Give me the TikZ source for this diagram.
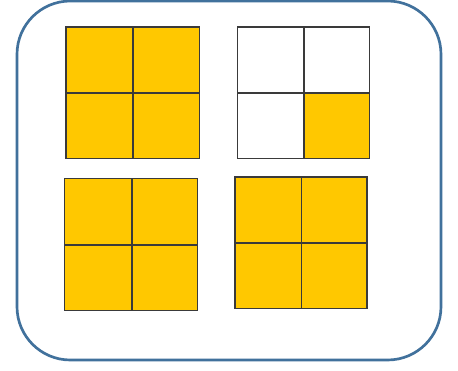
\documentclass[tikz,border=0pt]{standalone}
\usetikzlibrary{calc}
\definecolor{frameblue}{HTML}{41719C}
\definecolor{gold}{HTML}{FFC800}
\definecolor{gridline}{HTML}{3A3A3A}
\tikzset{
  frame/.style={draw=frameblue, line width=2pt, rounded corners=40pt},
  cellfull/.style={fill=gold, inner sep=0pt, anchor=north west},
  cellempty/.style={fill=white, inner sep=0pt, anchor=north west},
  gridpen/.style={draw=gridline, line width=1.3pt},
}
\begin{document}
\begin{tikzpicture}[x=0.75pt,y=-0.75pt]
\useasboundingbox (0,0) rectangle (458,371);
\fill[white] (0,0) rectangle (458,371);
\node[frame, minimum width=424*0.75pt, minimum height=359*0.75pt, inner sep=0pt] (box) at (229,180.5) {};
% grid 1 (top-left)
\node[cellfull, minimum width=66.5*0.75pt, minimum height=65.5*0.75pt] (a1) at (66,27) {};
\node[cellfull, minimum width=66.5*0.75pt, minimum height=65.5*0.75pt] (a2) at (132.5,27) {};
\node[cellfull, minimum width=66.5*0.75pt, minimum height=65.5*0.75pt] (a3) at (66,92.5) {};
\node[cellfull, minimum width=66.5*0.75pt, minimum height=65.5*0.75pt] (a4) at (132.5,92.5) {};
\draw[gridpen] (a1.north west) rectangle (a4.south east);
\draw[gridpen] (a1.north east) -- (a3.south east);
\draw[gridpen] (a1.south west) -- (a2.south east);
% grid 2 (top-right)
\node[cellempty, minimum width=66*0.75pt, minimum height=65.5*0.75pt] (b1) at (237.5,27) {};
\node[cellempty, minimum width=66*0.75pt, minimum height=65.5*0.75pt] (b2) at (303.5,27) {};
\node[cellempty, minimum width=66*0.75pt, minimum height=65.5*0.75pt] (b3) at (237.5,92.5) {};
\node[cellfull, minimum width=65.5*0.75pt, minimum height=65.5*0.75pt] (b4) at (303.5,92.5) {};
\draw[gridpen] (b1.north west) rectangle (b4.south east);
\draw[gridpen] (b1.north east) -- (b3.south east);
\draw[gridpen] (b1.south west) -- (b2.south east);
% grid 3 (bottom-left)
\node[cellfull, minimum width=67*0.75pt, minimum height=66*0.75pt] (c1) at (64.5,178.5) {};
\node[cellfull, minimum width=65.5*0.75pt, minimum height=66*0.75pt] (c2) at (131.5,178.5) {};
\node[cellfull, minimum width=67*0.75pt, minimum height=65.5*0.75pt] (c3) at (64.5,244.5) {};
\node[cellfull, minimum width=65.5*0.75pt, minimum height=65.5*0.75pt] (c4) at (131.5,244.5) {};
\draw[gridpen] (c1.north west) rectangle (c4.south east);
\draw[gridpen] (c1.north east) -- (c3.south east);
\draw[gridpen] (c1.south west) -- (c2.south east);
% grid 4 (bottom-right)
\node[cellfull, minimum width=66*0.75pt, minimum height=65.5*0.75pt] (d1) at (235,177) {};
\node[cellfull, minimum width=65.5*0.75pt, minimum height=65.5*0.75pt] (d2) at (301,177) {};
\node[cellfull, minimum width=66*0.75pt, minimum height=65.5*0.75pt] (d3) at (235,242.5) {};
\node[cellfull, minimum width=65.5*0.75pt, minimum height=65.5*0.75pt] (d4) at (301,242.5) {};
\draw[gridpen] (d1.north west) rectangle (d4.south east);
\draw[gridpen] (d1.north east) -- (d3.south east);
\draw[gridpen] (d1.south west) -- (d2.south east);
\end{tikzpicture}
\end{document}
